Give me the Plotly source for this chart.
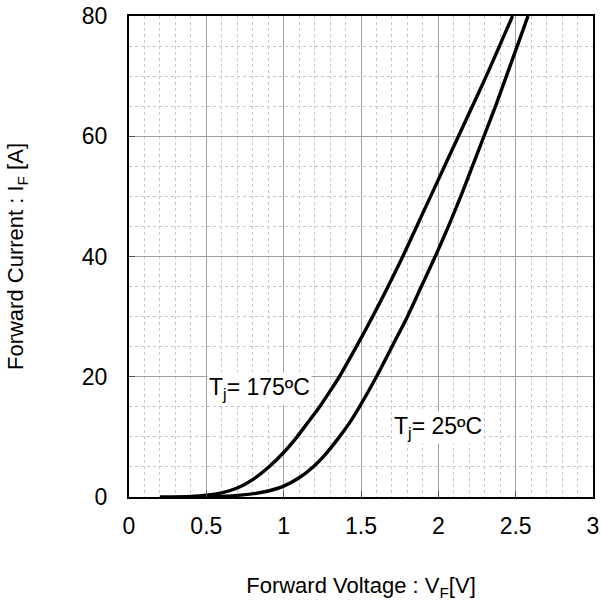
import plotly.graph_objects as go

# Forward characteristics
vf_175 = [0.2, 0.4, 0.5, 0.6, 0.7, 0.8, 0.9, 1.0, 1.08, 1.16, 1.235, 1.30, 1.36, 1.47, 1.575, 1.675, 1.77, 1.86, 1.95, 2.04, 2.13, 2.22, 2.31, 2.395, 2.48]
if_175 = [0.0, 0.1, 0.3, 0.7, 1.5, 2.9, 4.9, 7.4, 9.8, 12.5, 15.1, 17.6, 20.0, 25.0, 30.0, 35.0, 40.0, 45.0, 50.0, 55.0, 60.0, 65.0, 70.0, 75.0, 80.0]

vf_25 = [0.4, 0.6, 0.82, 0.9, 1.0, 1.1, 1.19, 1.28, 1.36, 1.43, 1.49, 1.60, 1.70, 1.80, 1.89, 1.98, 2.065, 2.145, 2.22, 2.295, 2.37, 2.44, 2.51, 2.58]
if_25 = [0.0, 0.1, 0.6, 1.0, 1.8, 3.2, 5.0, 7.4, 10.0, 12.5, 15.0, 20.0, 25.0, 30.0, 35.0, 40.0, 45.0, 50.0, 55.0, 60.0, 65.0, 70.0, 75.0, 80.0]

x_ticks = [0, 0.5, 1, 1.5, 2, 2.5, 3]
x_tick_labels = ["0", "0.5", "1", "1.5", "2", "2.5", "3"]
y_ticks = [0, 20, 40, 60, 80]
y_tick_labels = ["0", "20", "40", "60", "80"]

label_175 = "T<sub>j</sub>= 175ºC"
label_25 = "T<sub>j</sub>= 25ºC"

FONT = "Liberation Sans, Arial, sans-serif"

fig = go.Figure()
for xs, ys in [(vf_175, if_175), (vf_25, if_25)]:
    fig.add_trace(go.Scatter(x=xs, y=ys, mode="lines",
                             line=dict(color="black", width=3.4, shape="spline", smoothing=0.7),
                             showlegend=False, hoverinfo="skip"))

fig.add_annotation(x=0.845, y=18.0, text=label_175, showarrow=False,
                   font=dict(family=FONT, size=23, color="black"),
                   bgcolor="white", borderpad=1, xanchor="center", yanchor="middle")
fig.add_annotation(x=2.0, y=11.6, text=label_25, showarrow=False,
                   font=dict(family=FONT, size=23, color="black"),
                   bgcolor="white", borderpad=1, xanchor="center", yanchor="middle")

fig.update_layout(
    width=601, height=607,
    margin=dict(l=129, r=8, t=16, b=110),
    plot_bgcolor="white", paper_bgcolor="white",
    font=dict(family=FONT, size=23, color="black"),
)
fig.update_xaxes(
    range=[0, 3], tickvals=x_ticks, ticktext=x_tick_labels, automargin=False,
    showgrid=True, gridcolor="#a0a0a0", gridwidth=1,
    minor=dict(dtick=0.1, showgrid=True, gridcolor="#c8c8c8", griddash="dot", gridwidth=1),
    showline=True, linecolor="black", linewidth=2, mirror=True,
    ticks="inside", ticklen=6, tickcolor="#555", zeroline=False,
    tickfont=dict(size=23), ticklabelstandoff=7, ticklabeloverflow="allow",
    title=dict(text="Forward Voltage : V<sub>F</sub>[V]", font=dict(size=22), standoff=40),
)
fig.update_yaxes(
    range=[0, 80], tickvals=y_ticks, ticktext=y_tick_labels, automargin=False,
    showgrid=True, gridcolor="#a0a0a0", gridwidth=1,
    minor=dict(dtick=5, showgrid=True, gridcolor="#c8c8c8", griddash="dot", gridwidth=1),
    showline=True, linecolor="black", linewidth=2, mirror=True,
    ticks="inside", ticklen=6, tickcolor="#555", zeroline=False,
    tickfont=dict(size=23), ticklabelstandoff=15, ticklabeloverflow="allow",
    title=dict(text="Forward Current : I<sub>F</sub> [A]", font=dict(size=22), standoff=52),
)

# remove the default 8px page margin so the 601x607 figure fills the window exactly
fig.write_html("out.html", config={"displayModeBar": False},
               post_script="document.body.style.margin='0';document.body.style.overflow='hidden';")
